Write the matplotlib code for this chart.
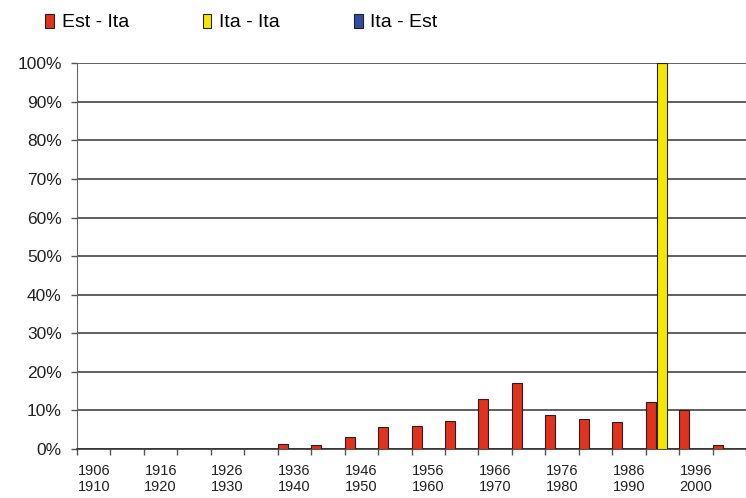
import numpy as np
import matplotlib
matplotlib.use('Agg')
from matplotlib import pyplot as plt
from matplotlib.patches import Patch

plt.rcParams['font.family'] = ['Liberation Sans', 'DejaVu Sans']

startYears = np.arange(1906, 2006, 5)
endYears = startYears + 4
estIta = [0, 0, 0, 0, 0, 0, 1.3, 1.0, 3.2, 5.7, 6.0, 7.3, 12.9, 17.2, 8.8, 7.9, 7.1, 12.3, 10.0, 1.1]
itaIta = [0, 0, 0, 0, 0, 0, 0, 0, 0, 0, 0, 0, 0, 0, 0, 0, 0, 100, 0, 0]
itaEst = [0] * 20

labels = ['%d\n%d' % (s, e) for s, e in zip(startYears, endYears)]
x = np.arange(len(startYears))

fig = plt.figure(figsize=(7.46, 4.98), dpi=100)
ax = fig.add_axes([77/746, 1 - 449/498, 1 - 77/746, (449 - 63.3)/498])

w = 0.3
shift = -0.02
series = [(estIta, '#e2311d', 'Est - Ita'),
          (itaIta, '#f5e800', 'Ita - Ita'),
          (itaEst, '#2f4fa6', 'Ita - Est')]
for k, (vals, col, name) in enumerate(series):
    ax.bar(x + (k - 1) * 0.33 + shift, vals, w, color=col, edgecolor='#222222',
           linewidth=0.8, zorder=3)

ax.set_ylim(0, 100)
ax.set_xlim(-0.5, 19.4)
ax.set_yticks(np.arange(0, 101, 10))
ax.set_yticklabels(['%d%%' % v for v in range(0, 101, 10)])
ax.yaxis.grid(True, color='#444444', linewidth=1.2, zorder=0)
ax.set_axisbelow(True)

ax.set_xticks(x[::2])
ax.set_xticklabels(labels[::2], linespacing=1.2)
ax.set_xticks(np.arange(-0.5, 20, 1), minor=True)
ax.tick_params(axis='x', which='major', length=0, pad=11, labelsize=10.5, colors='#222222')
ax.tick_params(axis='x', which='minor', length=4, width=1, color='#555555', direction='out')
ax.tick_params(axis='y', length=4, width=1, color='#555555', pad=7, labelsize=12.5,
               labelcolor='#222222')

for s in ['top', 'right']:
    ax.spines[s].set_visible(False)
ax.spines['left'].set_color('#666666')
ax.spines['bottom'].set_color('#333333')
ax.spines['bottom'].set_linewidth(1.2)

handles = [Patch(facecolor=c, edgecolor='#222222', linewidth=0.8, label=n) for _, c, n in series]
fig.legend(handles=handles, loc='center left', bbox_to_anchor=(45/746, 1 - 22.5/498), ncol=3,
           frameon=False, fontsize=14, handlelength=0.45, handleheight=0.75,
           handletextpad=0.4, columnspacing=3.8, borderaxespad=0, borderpad=0)

fig.savefig('out.png', dpi=100)
